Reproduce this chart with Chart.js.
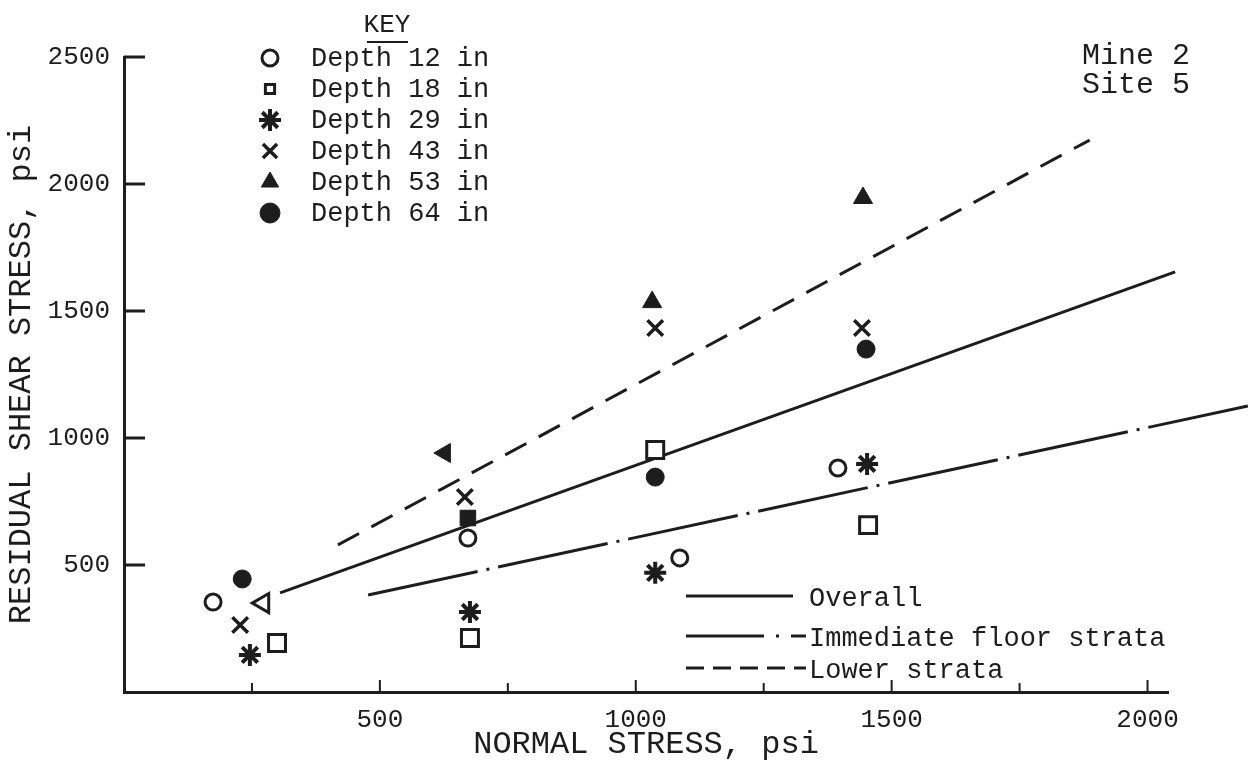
<!DOCTYPE html>
<html>
<head>
<meta charset="utf-8">
<script src="https://cdn.jsdelivr.net/npm/chart.js@4"></script>
<style>
  html, body { margin: 0; background: #fff; }
</style>
</head>
<body>
<canvas id="shearChart" width="1250" height="768"></canvas>
<script>
const canvasShear = document.getElementById("shearChart");

const INK = "#1d1d1d";
const MONO = "'Liberation Mono', 'Courier New', monospace";

// values (normal stress / residual shear stress, psi)
const depthLabels = ["Depth 12 in", "Depth 18 in", "Depth 29 in", "Depth 43 in", "Depth 53 in", "Depth 64 in"];

const depth12X = [174, 672, 1086, 1395];
const depth12Y = [354, 606, 528, 882];

const depth18X = [299, 676, 1038, 1454];
const depth18Y = [193, 213, 953, 657];

const depth29X = [246, 676, 1038, 1452];
const depth29Y = [146, 315, 469, 898];

const depth43X = [227, 666, 1038, 1442];
const depth43Y = [264, 768, 1433, 1433];

const depth53X = [272, 627, 1032, 1444];
const depth53Y = [350, 941, 1535, 1945];

const depth64X = [231, 672, 1038, 1450];
const depth64Y = [445, 685, 846, 1350];

// fitted lines, end points as drawn
const lineLabels = ["Overall", "Immediate floor strata", "Lower strata"];
const overallX = [305, 2054];
const overallY = [390, 1654];
const floorX = [477, 2196];
const floorY = [382, 1126];
const lowerX = [418, 1887];
const lowerY = [579, 2173];

// axis ticks
const xTickValues = [250, 500, 750, 1000, 1250, 1500, 1750, 2000];
const yTickValues = [500, 1000, 1500, 2000, 2500];

const pts = (xs, ys) => xs.map((x, i) => ({ x, y: ys[i] }));

// marker look for each depth (the key uses the same)
const markers = [
  { pointStyle: "circle", radius: 8, borderWidth: 3, fill: "#fff" },
  { pointStyle: "rect", radius: 12, borderWidth: 3, fill: "#fff" },
  { pointStyle: "star", radius: 11, borderWidth: 4, fill: INK },
  { pointStyle: "crossRot", radius: 11, borderWidth: 3.5, fill: INK },
  { pointStyle: "triangle", radius: 11, borderWidth: 1, fill: INK },
  { pointStyle: "circle", radius: 9, borderWidth: 1, fill: INK },
];

const depthXs = [depth12X, depth18X, depth29X, depth43X, depth53X, depth64X];
const depthYs = [depth12Y, depth18Y, depth29Y, depth43Y, depth53Y, depth64Y];

const pointSets = depthLabels.map((label, i) => ({
  label,
  data: pts(depthXs[i], depthYs[i]),
  pointStyle: markers[i].pointStyle,
  pointRadius: markers[i].radius,
  pointBorderWidth: markers[i].borderWidth,
  pointBorderColor: INK,
  pointBackgroundColor: markers[i].fill,
  showLine: false,
}));

// a few marks were drawn differently by hand
pointSets[4].pointRotation = [-90, -90, 0, 0];
pointSets[4].pointBackgroundColor = ["#fff", INK, INK, INK];
pointSets[4].pointBorderWidth = [3, 1, 1, 1];
pointSets[5].pointStyle = ["circle", "rect", "circle", "circle"];
pointSets[5].pointRadius = [9, 11, 9, 9];

const fitLine = (label, xs, ys, dash) => ({
  label,
  data: pts(xs, ys),
  showLine: true,
  borderColor: INK,
  borderWidth: 3,
  borderDash: dash,
  pointRadius: 0,
  clip: false,
});

const lineSets = [
  fitLine(lineLabels[0], overallX, overallY, []),
  fitLine(lineLabels[1], floorX, floorY, [112, 9, 3, 9]),
  fitLine(lineLabels[2], lowerX, lowerY, [24, 14]),
];

// tick marks drawn inside the plot, like the hand drawn axes
const innerTicks = {
  id: "innerTicks",
  afterDraw(chart) {
    const { ctx, chartArea: a, scales: { x, y } } = chart;
    ctx.save();
    ctx.strokeStyle = INK;
    ctx.lineCap = "butt";
    ctx.lineWidth = 3;
    yTickValues.forEach((v) => {
      const py = y.getPixelForValue(v);
      ctx.beginPath();
      ctx.moveTo(a.left, py);
      ctx.lineTo(a.left + 21, py);
      ctx.stroke();
    });
    ctx.lineWidth = 2;
    xTickValues.forEach((v) => {
      const px = x.getPixelForValue(v);
      const len = v % 500 === 0 ? 12 : 9;
      ctx.beginPath();
      ctx.moveTo(px, a.bottom);
      ctx.lineTo(px, a.bottom - len);
      ctx.stroke();
    });
    ctx.restore();
  },
};

// KEY block, line legend and site label
const notes = {
  id: "notes",
  afterDraw(chart) {
    const { ctx } = chart;
    ctx.save();
    ctx.fillStyle = INK;
    ctx.strokeStyle = INK;
    ctx.textBaseline = "middle";

    ctx.font = "26px " + MONO;
    ctx.textAlign = "center";
    ctx.fillText("KEY", 387, 25);
    ctx.lineWidth = 2;
    ctx.beginPath();
    ctx.moveTo(367, 42);
    ctx.lineTo(408, 42);
    ctx.stroke();

    const keySizes = [8, 6.5, 11, 10, 10, 10];
    ctx.textAlign = "left";
    ctx.font = "27px " + MONO;
    depthLabels.forEach((label, i) => {
      const cy = 58 + i * 31;
      const m = markers[i];
      ctx.fillStyle = m.fill;
      ctx.strokeStyle = INK;
      ctx.lineWidth = m.borderWidth;
      Chart.helpers.drawPoint(ctx, {
        pointStyle: m.pointStyle,
        radius: keySizes[i],
        rotation: 0,
        borderWidth: m.borderWidth,
      }, 270, cy);
      ctx.fillStyle = INK;
      ctx.fillText(label, 311, cy + 1);
    });

    // line legend at bottom right
    const rows = [596, 636, 668];
    lineSets.forEach((ds, i) => {
      ctx.lineWidth = 3;
      ctx.strokeStyle = INK;
      ctx.setLineDash(i === 1 ? [78, 12, 3, 12, 40] : i === 2 ? [18, 9] : []);
      ctx.beginPath();
      ctx.moveTo(686, rows[i]);
      ctx.lineTo(i === 0 ? 793 : 806, rows[i]);
      ctx.stroke();
      ctx.setLineDash([]);
      ctx.fillText(ds.label, 809, rows[i] + 3);
    });

    ctx.font = "30px " + MONO;
    ctx.textAlign = "right";
    ctx.fillText("Mine 2", 1190, 56);
    ctx.fillText("Site 5", 1190, 85);
    ctx.restore();
  },
};

new Chart(canvasShear, {
  type: "scatter",
  plugins: [innerTicks, notes],
  data: {
    datasets: [...pointSets, ...lineSets],
  },
  options: {
    responsive: false,
    animation: false,
    devicePixelRatio: 1,
    layout: { padding: { left: 0, right: 82, top: 57, bottom: 0 } },
    plugins: {
      legend: { display: false },
      tooltip: { enabled: false },
    },
    scales: {
      x: {
        type: "linear",
        min: 0,
        max: 2040,
        afterBuildTicks: (scale) => {
          scale.ticks = xTickValues.map((v) => ({ value: v }));
        },
        afterFit: (scale) => {
          scale.height = 76;
        },
        ticks: {
          autoSkip: false,
          maxRotation: 0,
          padding: 13,
          color: INK,
          font: { family: MONO, size: 26 },
          callback: (v) => (v % 500 === 0 ? String(v) : ""),
        },
        grid: { display: false, drawTicks: false },
        border: { display: true, color: INK, width: 3 },
        title: {
          display: true,
          text: "NORMAL STRESS, psi",
          color: INK,
          font: { family: MONO, size: 32 },
          padding: { top: 0, bottom: 4 },
        },
      },
      y: {
        type: "linear",
        min: 0,
        max: 2500,
        afterBuildTicks: (scale) => {
          scale.ticks = yTickValues.map((v) => ({ value: v }));
        },
        afterFit: (scale) => {
          scale.width = 124;
        },
        ticks: {
          padding: 14,
          color: INK,
          font: { family: MONO, size: 26 },
          callback: (v) => String(v),
        },
        grid: { display: false, drawTicks: false },
        border: { display: true, color: INK, width: 3 },
        title: {
          display: true,
          text: "RESIDUAL SHEAR STRESS, psi",
          color: INK,
          font: { family: MONO, size: 32 },
          padding: { top: 2, bottom: 0 },
        },
      },
    },
  },
});
</script>
</body>
</html>
